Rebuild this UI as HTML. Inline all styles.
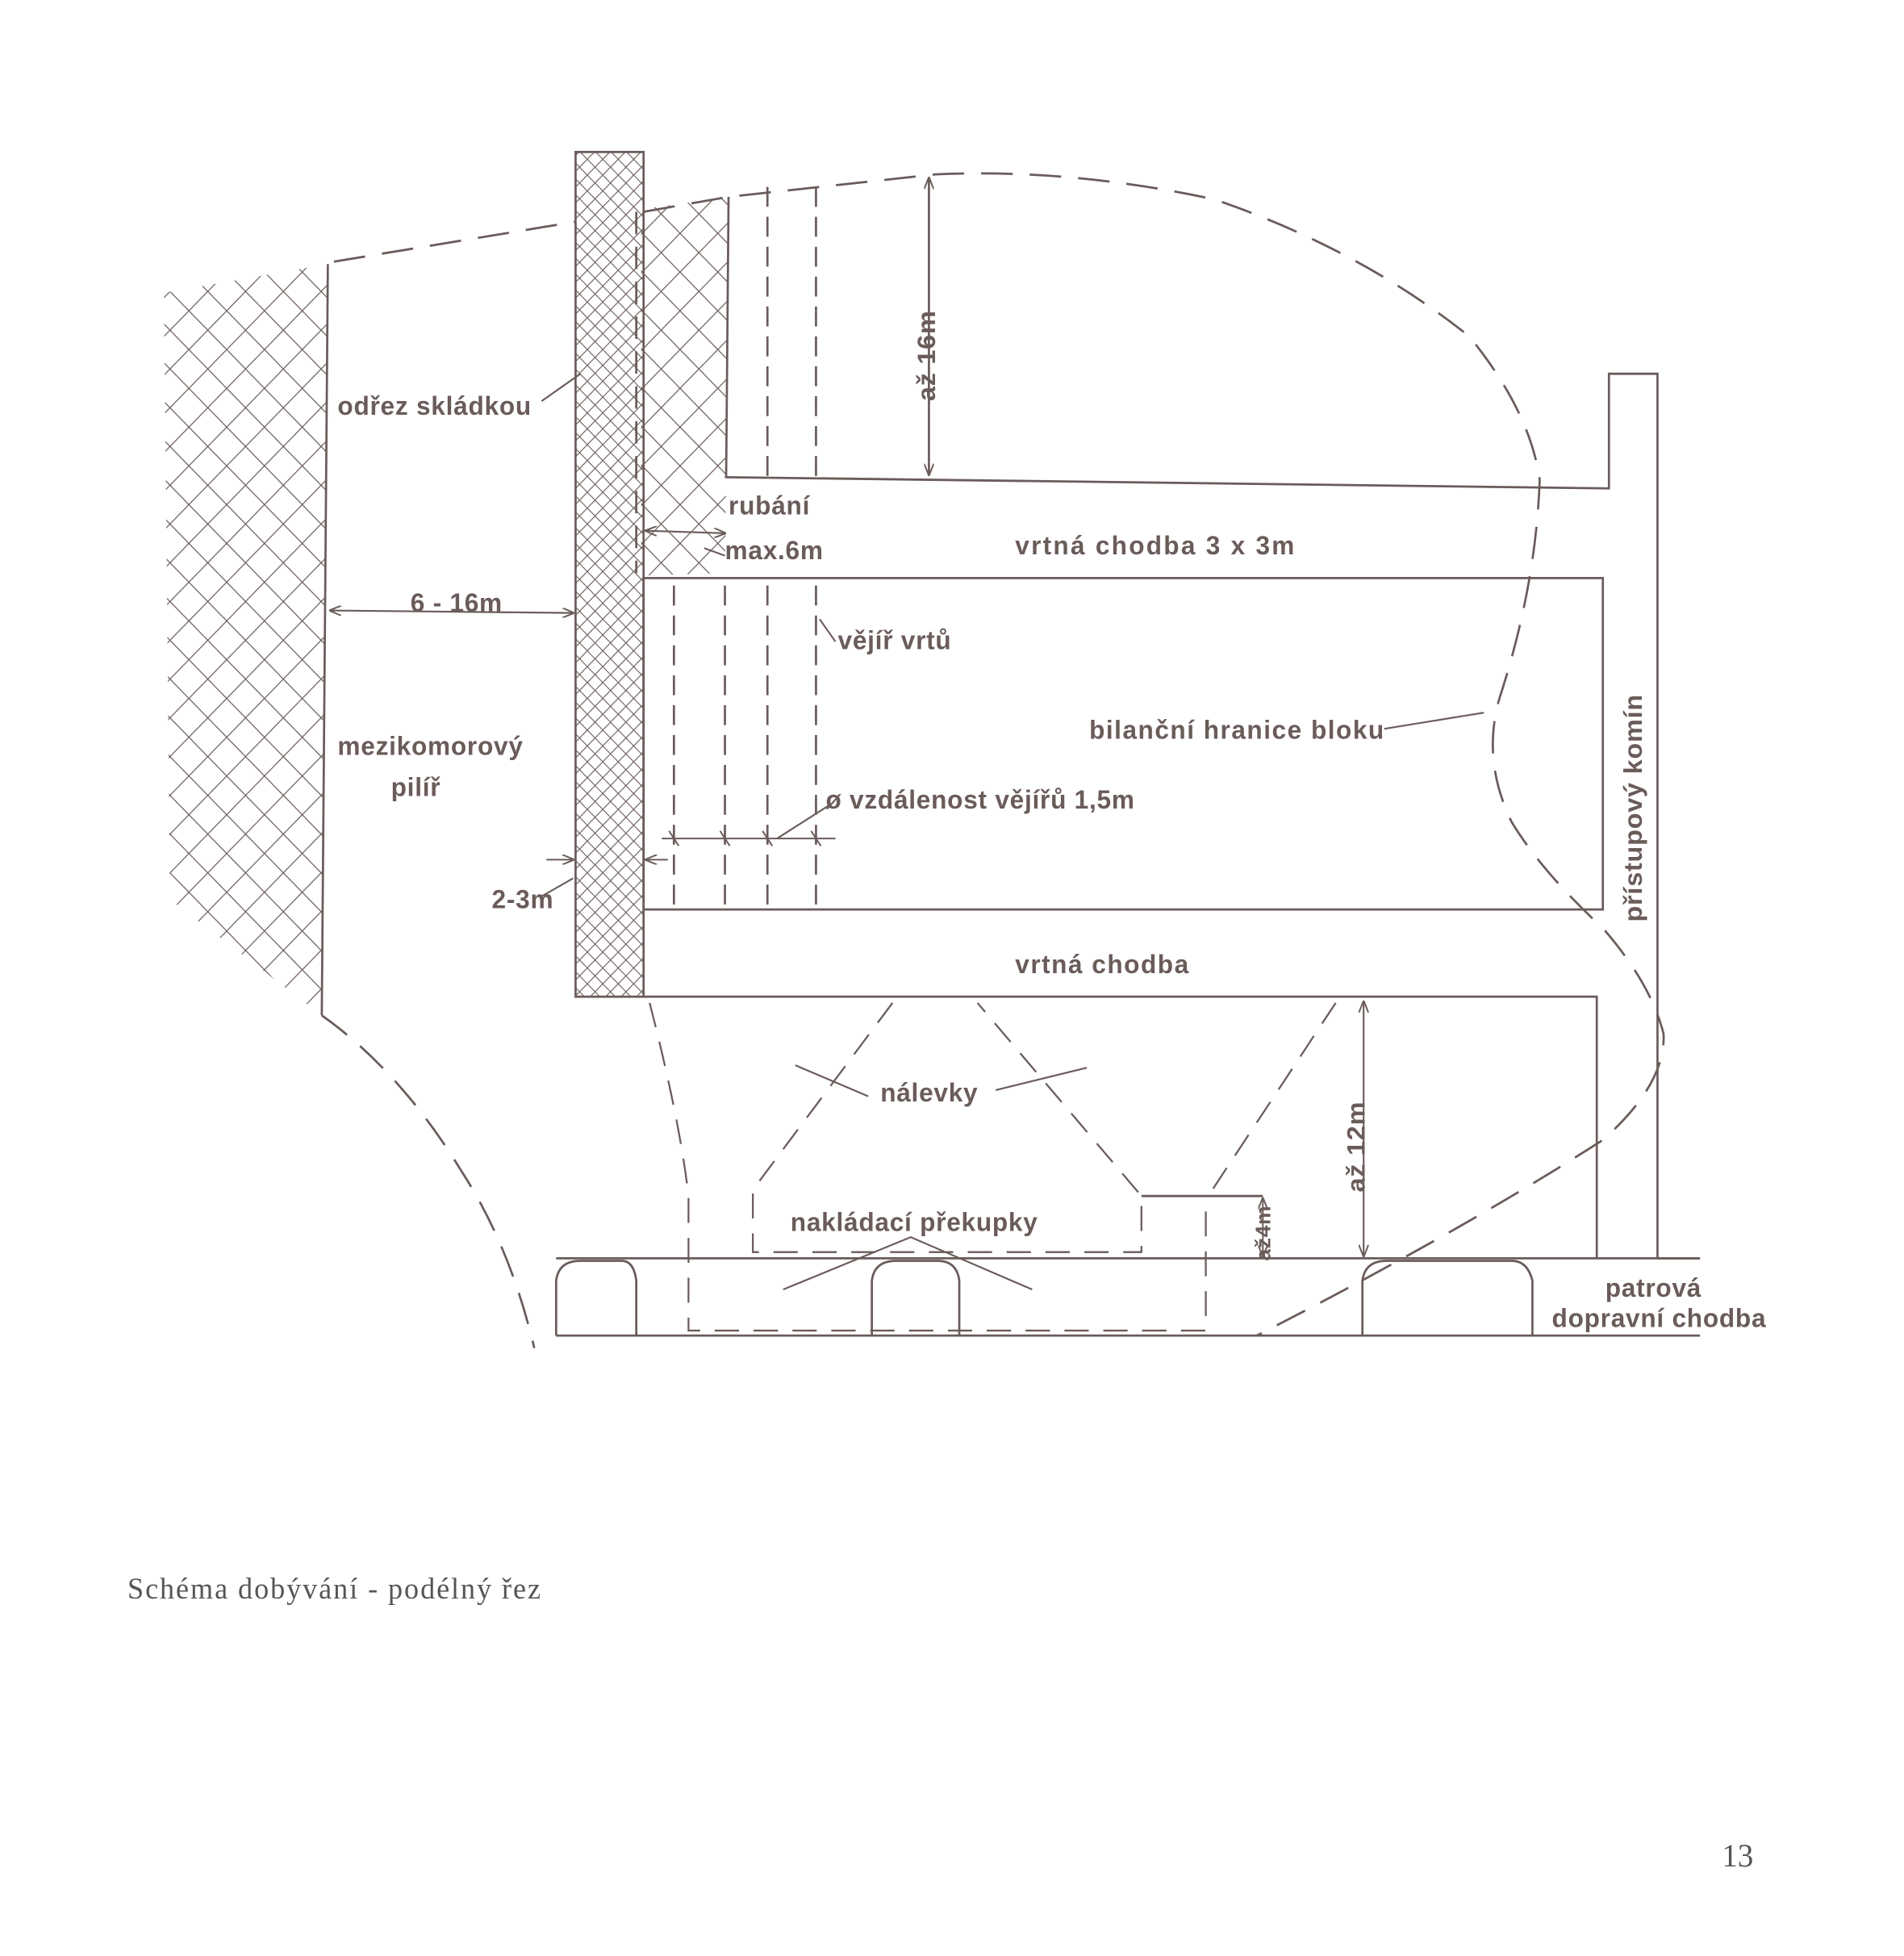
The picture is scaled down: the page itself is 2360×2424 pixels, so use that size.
<!DOCTYPE html>
<html><head><meta charset="utf-8"><style>
html,body{margin:0;padding:0;background:#fff}
svg{display:block}
text{font-family:"Liberation Sans","DejaVu Sans",sans-serif;font-weight:bold;fill:#6a5c5a}
.s{font-family:"Liberation Serif",serif;font-weight:normal;fill:#555}
</style></head><body>
<svg width="2360" height="2424" viewBox="0 0 1568 1570" preserveAspectRatio="none" xmlns="http://www.w3.org/2000/svg">
<defs>
<pattern id="h1" width="22" height="22" patternUnits="userSpaceOnUse" patternTransform="rotate(45)">
<path d="M0 0H22M0 0V22" stroke="#6a5c5a" stroke-width="1.6" fill="none"/></pattern>
<pattern id="h2" width="9" height="9" patternUnits="userSpaceOnUse" patternTransform="rotate(45)">
<path d="M0 0H9M0 0V9" stroke="#6a5c5a" stroke-width="1.5" fill="none"/></pattern>
<marker id="a" markerWidth="10" markerHeight="8" refX="9" refY="4" orient="auto-start-reverse" markerUnits="userSpaceOnUse"><path d="M0,0 L10,4 L0,8" fill="none" stroke="#6a5c5a" stroke-width="1.3"/></marker>
</defs>
<g stroke="#6a5c5a" stroke-width="1.8" fill="none">
<path d="M135,235 L270,212 L265,815 L140,722 Z" fill="url(#h1)" stroke="none"/>
<path d="M270,212 L265,815"/>
<path d="M528,168 L600,158 L598,383 L597,460 L528,462 Z" fill="url(#h1)" stroke="none"/>
<path d="M600,158 L598,383"/>
<rect x="474" y="122" width="56" height="678" fill="url(#h2)"/>
<path d="M275,210 L474,178 M530,170 L600,158 L770,140 Q880,135 1000,160 Q1120,200 1210,270 Q1260,330 1268,385 Q1265,470 1235,560 Q1220,610 1245,660 Q1270,700 1320,745 Q1360,790 1370,830 Q1372,870 1320,915 Q1200,990 1035,1072" stroke-dasharray="26,14"/>
<path d="M265,815 Q330,860 380,940 Q420,1000 440,1082" stroke-dasharray="26,14"/>
<path d="M524,170 V460" stroke-dasharray="18,10"/>
<path d="M632,150 V383 M672,150 V383 M555,470 V730 M597,470 V730 M632,470 V730 M672,470 V730" stroke-dasharray="16,8"/>
<path d="M597,383 L1325,392 V300 H1365 V1010 H1400"/>
<rect x="530" y="464" width="790" height="266"/>
<path d="M530,800 H1315 V1010"/>
<path d="M458,1010 H1400 M458,1072 H1400"/>
<path d="M458,1072 V1028 Q460,1012 478,1012 H512 Q522,1012 524,1028 V1072"/>
<path d="M718,1072 V1028 Q720,1012 738,1012 H772 Q788,1012 790,1028 V1072"/>
<path d="M1122,1072 V1028 Q1124,1012 1142,1012 H1245 Q1258,1012 1262,1028 V1072"/>
<g stroke-dasharray="20,12" stroke-width="1.5">
<path d="M535,805 Q560,900 567,960 V1068 H993 V960"/>
<path d="M735,805 L620,955 V1005 H940 V960 L805,805"/>
<path d="M1100,805 L995,960"/>
</g>
<path d="M940,960 H1040"/>
<path d="M765,143 V381" marker-start="url(#a)" marker-end="url(#a)"/>
<path d="M1123,804 V1008" marker-start="url(#a)" marker-end="url(#a)" stroke-width="1.4"/>
<path d="M1040,962 V1008" marker-start="url(#a)" marker-end="url(#a)" stroke-width="1.3"/>
<path d="M272,490 L472,492" marker-start="url(#a)" marker-end="url(#a)" stroke-width="1.4"/>
<path d="M532,426 L597,428" marker-start="url(#a)" marker-end="url(#a)" stroke-width="1.4"/>
<path d="M450,690 L472,690" marker-end="url(#a)" stroke-width="1.3"/>
<path d="M550,690 L532,690" marker-end="url(#a)" stroke-width="1.3"/>
<path d="M545,673 H688 M551,667 L559,679 M593,667 L601,679 M628,667 L636,679 M668,667 L676,679" stroke-width="1.3"/>
<g stroke-width="1.4">
<path d="M446,322 L478,300"/>
<path d="M675,497 L688,515"/>
<path d="M1140,585 L1222,572"/>
<path d="M685,645 L640,673"/>
<path d="M445,720 L472,705"/>
<path d="M655,855 L715,880 M820,875 L895,857"/>
<path d="M645,1035 L750,993 L850,1035"/>
<path d="M580,440 L597,446"/>
</g>
</g>
<g font-size="21" letter-spacing="0.5">
<text x="278" y="333">odřez skládkou</text>
<text x="600" y="413">rubání</text>
<text x="597" y="449">max.6m</text>
<text x="836" y="445" letter-spacing="1.5">vrtná  chodba  3 x 3m</text>
<text x="338" y="491">6 - 16m</text>
<text x="690" y="521">vějíř vrtů</text>
<text x="278" y="606">mezikomorový</text>
<text x="322" y="639">pilíř</text>
<text x="897" y="593" letter-spacing="1">bilanční  hranice  bloku</text>
<text x="680" y="649">ø vzdálenost vějířů 1,5m</text>
<text x="405" y="729">2-3m</text>
<text x="836" y="781" letter-spacing="1">vrtná  chodba</text>
<text x="725" y="884">nálevky</text>
<text x="651" y="988">nakládací  překupky</text>
<text x="1322" y="1041">patrová</text>
<text x="1278" y="1065">dopravní chodba</text>
<text transform="translate(770,322) rotate(-90)">až 16m</text>
<text transform="translate(1352,740) rotate(-90)">přístupový  komín</text>
<text transform="translate(1124,957) rotate(-90)">až 12m</text>
<text transform="translate(1046,1012) rotate(-90)" font-size="17">až4m</text>
</g>
<text class="s" x="105" y="1283" font-size="24" letter-spacing="1.3">Schéma dobývání - podélný řez</text>
<text class="s" x="1418" y="1498" font-size="26">13</text>
</svg>
</body></html>
